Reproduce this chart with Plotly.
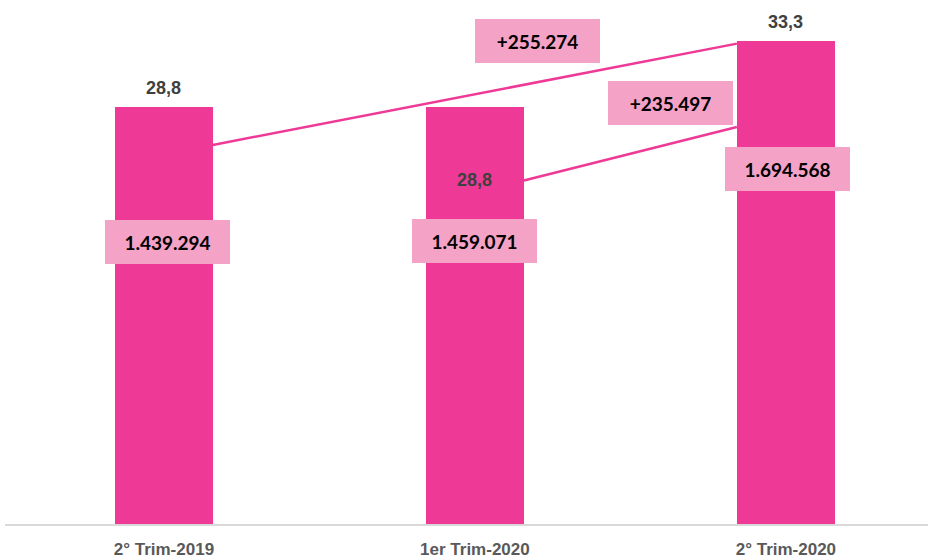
import plotly.graph_objects as go

# ---- data ----
categories = ["2° Trim-2019", "1er Trim-2020", "2° Trim-2020"]
values = [28.8, 28.8, 33.3]
counts = [1439294, 1459071, 1694568]
diff_labels = ["+255.274", "+235.497"]

# ---- styling / positions ----
BAR_COLOR = "#EE3A96"
BOX_COLOR = "#F4A2C5"
BAR_W = 0.315


def fmt_dec(v):
    return f"{v:.1f}".replace(".", ",")


def fmt_int(v):
    return f"{v:,}".replace(",", ".")


xs = list(range(len(categories)))

fig = go.Figure()
fig.add_trace(go.Bar(
    x=xs, y=values, width=BAR_W,
    marker=dict(color=BAR_COLOR, line=dict(width=0)),
    hoverinfo="skip", showlegend=False,
))

# connector lines (from bar edges)
line_defs = [
    ((0 + BAR_W / 2, 26.16), (2 - BAR_W / 2, 33.15)),
    ((1 + BAR_W / 2, 23.7), (2 - BAR_W / 2, 27.4)),
]
for (x0, y0), (x1, y1) in line_defs:
    fig.add_trace(go.Scatter(
        x=[x0, x1], y=[y0, y1], mode="lines",
        line=dict(color=BAR_COLOR, width=2.5),
        hoverinfo="skip", showlegend=False,
    ))

annotations = []
# value labels
val_label_pos = [(0, values[0], 19), (1, 23.75, 0), (2, values[2], 19)]
for i, (x, y, ys) in enumerate(val_label_pos):
    annotations.append(dict(
        x=x, y=y, xref="x", yref="y", text=f"<b>{fmt_dec(values[i])}</b>",
        showarrow=False, yshift=ys,
        font=dict(family="Liberation Sans, Arial, sans-serif", size=18, color="#404040"),
    ))

# count boxes
box_pos = [(0.013, 19.45), (1.0, 19.55), (2.005, 24.5)]
for (x, y), c in zip(box_pos, counts):
    annotations.append(dict(
        x=x, y=y, xref="x", yref="y", text=f"<b>{fmt_int(c)}</b>",
        showarrow=False, width=125, height=44, bgcolor=BOX_COLOR,
        borderpad=0, borderwidth=0,
        font=dict(family="Lato, sans-serif", size=19, color="#000000"),
    ))

# difference boxes
diff_pos = [(1.2, 33.3), (1.63, 29.07)]
for (x, y), t in zip(diff_pos, diff_labels):
    annotations.append(dict(
        x=x, y=y, xref="x", yref="y", text=f"<b>{t}</b>",
        showarrow=False, width=125, height=44, bgcolor=BOX_COLOR,
        borderpad=0, borderwidth=0,
        font=dict(family="Lato, sans-serif", size=19, color="#000000"),
    ))

fig.update_layout(
    width=928, height=559,
    margin=dict(l=5, r=0, t=0, b=31),
    paper_bgcolor="white", plot_bgcolor="white",
    annotations=annotations,
    bargap=0,
)
fig.update_xaxes(
    range=[-0.511, 2.457], tickvals=xs, ticktext=[f"<b>{c}</b>" for c in categories],
    showline=True, linecolor="#D9D9D9", linewidth=1.5, showgrid=False, zeroline=False,
    ticks="", ticklabelstandoff=9,
    tickfont=dict(family="Liberation Sans, Arial, sans-serif", size=17, color="#595959"),
)
fig.update_yaxes(range=[0, 36.16], visible=False, showgrid=False, zeroline=False)

fig.write_html(
    "out.html",
    config={"displayModeBar": False},
    post_script=(
        "document.body.style.margin='0';"
        "document.body.style.overflow='hidden';"
        "document.documentElement.style.overflow='hidden';"
    ),
)
